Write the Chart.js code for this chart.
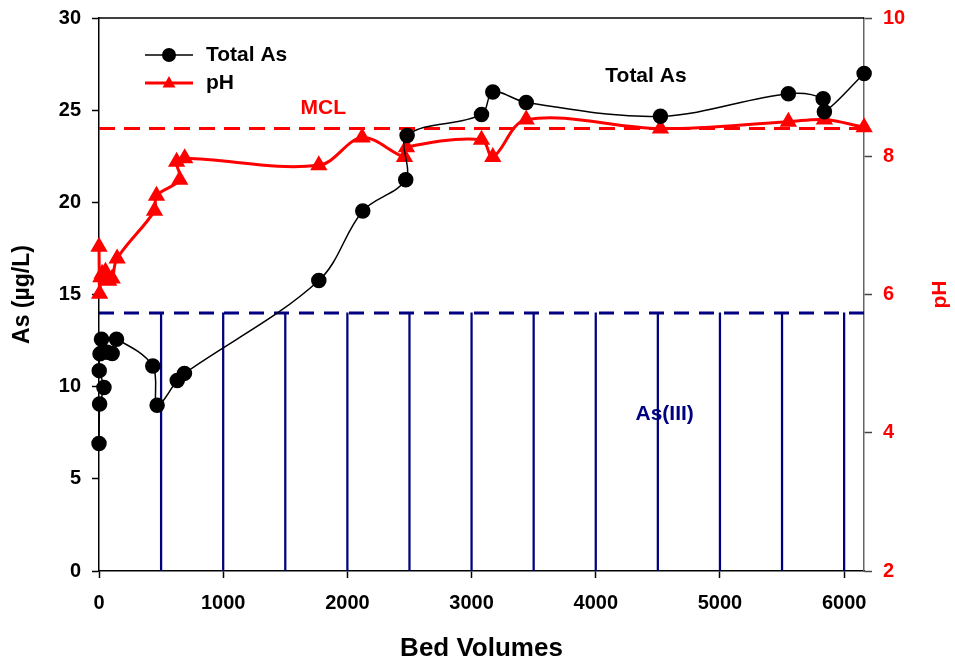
<!DOCTYPE html>
<html>
<head>
<meta charset="utf-8">
<script src="https://cdn.jsdelivr.net/npm/chart.js@4.4.0/dist/chart.umd.min.js"></script>
<style>
html, body { margin: 0; padding: 0; background: #fff; }
</style>
</head>
<body>
<canvas id="chart" width="955" height="664"></canvas>
<script>
// values
var totalAsBV = [0, 5, 40, 2, 8, 66, 106, 20, 141, 433, 468, 630, 688, 1770, 2124, 2470, 2481, 3080, 3171, 3440, 4521, 5551, 5831, 5841, 6161];
var totalAs   = [6.92, 9.06, 9.96, 10.87, 11.78, 11.87, 11.8, 12.57, 12.57, 11.12, 8.99, 10.33, 10.72, 15.76, 19.53, 21.23, 23.62, 24.76, 25.98, 25.42, 24.67, 25.89, 25.62, 24.91, 26.99];
var phBV = [0, 5, 15, 25, 52, 78, 106, 146, 447, 463, 650, 625, 690, 1770, 2119, 2460, 2476, 3080, 3171, 3440, 4521, 5551, 5841, 6161];
var ph   = [6.69, 6.01, 6.25, 6.3, 6.33, 6.2, 6.23, 6.52, 7.21, 7.43, 7.66, 7.92, 7.97, 7.87, 8.27, 7.99, 8.13, 8.24, 7.99, 8.53, 8.40, 8.50, 8.53, 8.42];
var as3BV = [500, 1000, 1500, 2000, 2500, 3000, 3500, 4000, 4500, 5000, 5500, 6000];
var as3   = [14, 14, 14, 14, 14, 14, 14, 14, 14, 14, 14, 14];
var mcl = 24;
var bvRange = [0, 6160];
var bvTicks = [0, 1000, 2000, 3000, 4000, 5000, 6000];
var asTicks = [0, 5, 10, 15, 20, 25, 30];
var phTicks = [2, 4, 6, 8, 10];

var FONT = "'Liberation Sans', Arial, sans-serif";
var NAVY = '#000080';

function pts(xs, ys) {
    var out = [];
    for (var i = 0; i < xs.length; i++) out.push({x: xs[i], y: ys[i]});
    return out;
}
function fixTicks(list) {
    return function(scale) { scale.ticks = list.map(function(v) { return {value: v}; }); };
}
function plain(v) { return String(v); }
function fitWidth(w) {
    return function(s) { s.width = w; s.paddingTop = 0; s.paddingBottom = 0; };
}

var decor = {
    id: 'decor',
    afterDraw: function(chart) {
        var ctx = chart.ctx, a = chart.chartArea;
        var xs = chart.scales.x, ys = chart.scales.y;
        ctx.save();
        // top frame
        ctx.strokeStyle = '#000';
        ctx.lineWidth = 1.5;
        ctx.beginPath();
        ctx.moveTo(a.left, a.top);
        ctx.lineTo(a.right, a.top);
        ctx.stroke();

        // axis titles
        ctx.textAlign = 'center';
        ctx.textBaseline = 'middle';
        ctx.fillStyle = '#000';
        ctx.font = 'bold 26px ' + FONT;
        ctx.fillText('Bed Volumes', (a.left + a.right) / 2, 649);
        ctx.font = 'bold 23px ' + FONT;
        ctx.save();
        ctx.translate(23, (a.top + a.bottom) / 2);
        ctx.rotate(-Math.PI / 2);
        ctx.fillText('As (\u00b5g/L)', 0, 0);
        ctx.restore();
        ctx.save();
        ctx.font = 'bold 21px ' + FONT;
        ctx.fillStyle = '#ff0000';
        ctx.translate(940, (a.top + a.bottom) / 2);
        ctx.rotate(-Math.PI / 2);
        ctx.fillText('pH', 0, 0);
        ctx.restore();

        // labels in the plot
        ctx.font = 'bold 21px ' + FONT;
        ctx.fillStyle = '#ff0000';
        ctx.fillText('MCL', xs.getPixelForValue(1806), ys.getPixelForValue(25.1));
        ctx.fillStyle = '#000';
        ctx.fillText('Total As', xs.getPixelForValue(4404), ys.getPixelForValue(26.86));
        ctx.fillStyle = NAVY;
        ctx.fillText('As(III)', xs.getPixelForValue(4555), ys.getPixelForValue(8.5));

        // legend
        var lx = a.left + 46, ly = a.top + 37;
        ctx.textAlign = 'left';
        ctx.strokeStyle = '#000';
        ctx.lineWidth = 1.5;
        ctx.beginPath(); ctx.moveTo(lx, ly); ctx.lineTo(lx + 48, ly); ctx.stroke();
        ctx.fillStyle = '#000';
        ctx.beginPath(); ctx.arc(lx + 24, ly, 7, 0, Math.PI * 2); ctx.fill();
        ctx.fillText('Total As', lx + 61, ly);
        ly += 28;
        ctx.strokeStyle = '#ff0000';
        ctx.lineWidth = 3;
        ctx.beginPath(); ctx.moveTo(lx, ly); ctx.lineTo(lx + 48, ly); ctx.stroke();
        ctx.fillStyle = '#ff0000';
        ctx.beginPath();
        ctx.moveTo(lx + 24, ly - 7);
        ctx.lineTo(lx + 30.5, ly + 4.5);
        ctx.lineTo(lx + 17.5, ly + 4.5);
        ctx.closePath();
        ctx.fill();
        ctx.fillStyle = '#000';
        ctx.fillText('pH', lx + 61, ly);
        ctx.restore();
    }
};

var ctx = document.getElementById('chart');
var chart = new Chart(ctx, {
    type: 'line',
    data: {
        datasets: [
            {
                label: 'Total As',
                data: pts(totalAsBV, totalAs),
                yAxisID: 'y',
                borderColor: '#000',
                backgroundColor: '#000',
                borderWidth: 1.5,
                pointRadius: 7,
                pointHoverRadius: 7,
                tension: 0.35,
                clip: false,
                order: 0
            },
            {
                label: 'pH',
                data: pts(phBV, ph),
                yAxisID: 'y1',
                borderColor: '#ff0000',
                backgroundColor: '#ff0000',
                borderWidth: 3,
                pointStyle: 'triangle',
                pointRadius: 7,
                pointHoverRadius: 7,
                tension: 0.35,
                clip: false,
                order: 1
            },
            {
                label: 'MCL',
                data: pts(bvRange, [mcl, mcl]),
                yAxisID: 'y',
                borderColor: '#ff0000',
                borderWidth: 3,
                borderDash: [16, 9],
                pointRadius: 0,
                order: 2
            },
            {
                label: 'As(III) level',
                data: pts(bvRange, [as3[0], as3[0]]),
                yAxisID: 'y',
                borderColor: NAVY,
                borderWidth: 3,
                borderDash: [15, 10],
                pointRadius: 0,
                order: 3
            },
            {
                type: 'bar',
                label: 'As(III)',
                data: pts(as3BV, as3),
                yAxisID: 'y',
                backgroundColor: NAVY,
                barThickness: 1.6,
                order: 4
            }
        ]
    },
    options: {
        responsive: false,
        animation: false,
        devicePixelRatio: 1,
        layout: { padding: { top: 18, left: 0, right: 0, bottom: 0 } },
        plugins: {
            legend: { display: false },
            tooltip: { enabled: false }
        },
        scales: {
            x: {
                type: 'linear',
                offset: false,
                min: bvRange[0],
                max: bvRange[1],
                afterBuildTicks: fixTicks(bvTicks),
                afterFit: function(s) { s.height = 93; },
                border: { color: '#000', width: 1.5 },
                grid: { drawOnChartArea: false, tickLength: 7, color: '#000', tickWidth: 1.5, offset: false },
                ticks: { color: '#000', padding: 13, maxRotation: 0, callback: plain, font: { family: FONT, size: 20, weight: 'bold' } }
            },
            y: {
                position: 'left',
                min: 0,
                max: 30,
                afterBuildTicks: fixTicks(asTicks),
                afterFit: fitWidth(99),
                border: { color: '#000', width: 1.5 },
                grid: { drawOnChartArea: false, tickLength: 7, color: '#000', tickWidth: 1.5 },
                ticks: { color: '#000', padding: 11, callback: plain, font: { family: FONT, size: 20, weight: 'bold' } }
            },
            y1: {
                position: 'right',
                min: 2,
                max: 10,
                afterBuildTicks: fixTicks(phTicks),
                afterFit: fitWidth(91),
                border: { color: '#666', width: 1.5 },
                grid: { drawOnChartArea: false, tickLength: 8, color: '#444', tickWidth: 1.5 },
                ticks: { color: '#ff0000', padding: 11, callback: plain, font: { family: FONT, size: 20, weight: 'bold' } }
            }
        }
    },
    plugins: [decor]
});
</script>
</body>
</html>
